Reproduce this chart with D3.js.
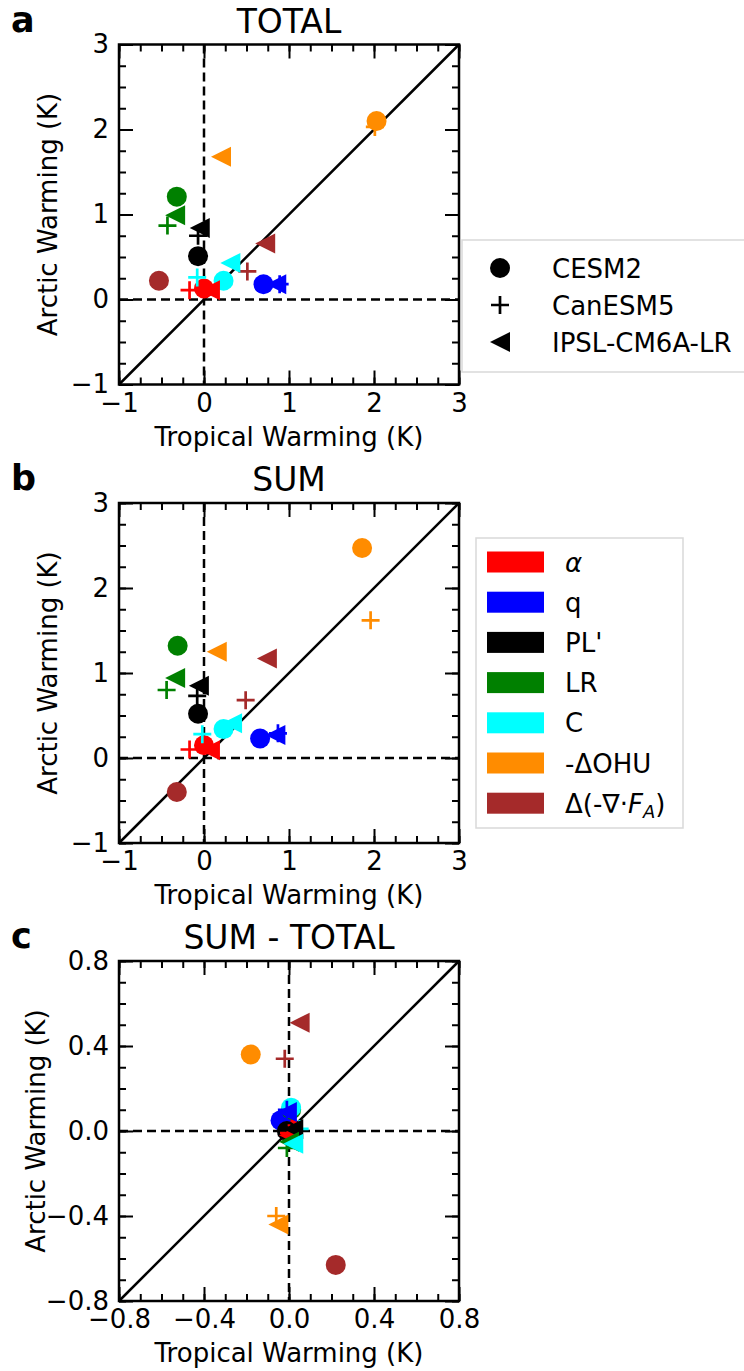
<!DOCTYPE html>
<html>
<head>
<meta charset="utf-8">
<title>Arctic vs tropical warming</title>
<style>
  body { margin: 0; background: #fff; }
  text { font-family: "DejaVu Sans", sans-serif; }
</style>
</head>
<body>
<script src="https://cdn.jsdelivr.net/npm/d3@7"></script>
<script>
// components, colours, models
var components = ["α", "q", "PL'", "LR", "C", "-ΔOHU", "Δ(-∇·F_A)"];
var colors = ["#ff0000", "#0000ff", "#000000", "#008000", "#00ffff", "#ff8c00", "#a52a2a"];
var models = ["CESM2", "CanESM5", "IPSL-CM6A-LR"];
var shapes = ["circle", "plus", "triangle"];

// panel a: TOTAL  (tropical x, arctic y) per model, in component order
var totalCESM2Trop = [0.00, 0.70, -0.07, -0.32, 0.23, 2.03, -0.53];
var totalCESM2Arct = [0.13, 0.18, 0.51, 1.21, 0.22, 2.10, 0.22];
var totalCanTrop   = [-0.17, 0.89, -0.07, -0.43, -0.08, 2.01, 0.51];
var totalCanArct   = [0.11, 0.18, 0.75, 0.87, 0.26, 2.03, 0.33];
var totalIPSLTrop  = [0.07, 0.85, -0.05, -0.34, 0.31, 0.20, 0.72];
var totalIPSLArct  = [0.11, 0.18, 0.84, 0.99, 0.43, 1.68, 0.66];

// panel b: SUM
var sumCESM2Trop = [0.00, 0.66, -0.07, -0.31, 0.23, 1.86, -0.32];
var sumCESM2Arct = [0.15, 0.23, 0.52, 1.32, 0.34, 2.47, -0.40];
var sumCanTrop   = [-0.17, 0.87, -0.08, -0.44, -0.02, 1.96, 0.49];
var sumCanArct   = [0.10, 0.29, 0.73, 0.80, 0.28, 1.62, 0.68];
var sumIPSLTrop  = [0.07, 0.84, -0.06, -0.34, 0.33, 0.15, 0.74];
var sumIPSLArct  = [0.09, 0.27, 0.85, 0.94, 0.41, 1.25, 1.17];

// panel c: SUM - TOTAL
var diffCESM2Trop = [0.00, -0.04, -0.01, 0.01, 0.01, -0.18, 0.22];
var diffCESM2Arct = [0.02, 0.05, 0.00, 0.10, 0.11, 0.36, -0.63];
var diffCanTrop   = [0.00, -0.01, -0.01, -0.01, 0.05, -0.06, -0.02];
var diffCanArct   = [-0.01, 0.10, -0.02, -0.08, 0.01, -0.40, 0.34];
var diffIPSLTrop  = [0.00, -0.01, 0.02, 0.00, 0.02, -0.05, 0.05];
var diffIPSLArct  = [-0.02, 0.09, 0.01, -0.05, -0.06, -0.44, 0.51];

// tick labels
var bigTicks = [-1, 0, 1, 2, 3];
var smallTicks = [-0.8, -0.4, 0.0, 0.4, 0.8];

var W = 744, H = 1371;
var svg = d3.select("body").append("svg")
    .attr("width", W)
    .attr("height", H);

var left = 119, size = 340;

function markerPath(shape) {
  if (shape == "triangle") return "M-10,0L10,-10L10,10Z";
  if (shape == "plus") return "M-9,0H9M0,-9V9";
  return d3.symbol(d3.symbolCircle, Math.PI * 100)();
}

function drawMarker(g, shape, color, x, y) {
  var p = g.append("path")
      .attr("d", markerPath(shape))
      .attr("transform", "translate(" + x + "," + y + ")");
  if (shape == "plus") p.attr("fill", "none").attr("stroke", color).attr("stroke-width", 2.7);
  else p.attr("fill", color);
}

function panel(cfg) {
  var top = cfg.top;
  var x = d3.scaleLinear().domain(cfg.domain).range([left, left + size]);
  var y = d3.scaleLinear().domain(cfg.domain).range([top + size, top]);
  var g = svg.append("g");

  // zero lines and 1:1 line
  g.append("line")
      .attr("x1", x(0)).attr("x2", x(0)).attr("y1", top).attr("y2", top + size)
      .attr("stroke", "#000").attr("stroke-width", 2.5).attr("stroke-dasharray", "9,5");
  g.append("line")
      .attr("x1", left).attr("x2", left + size).attr("y1", y(0)).attr("y2", y(0))
      .attr("stroke", "#000").attr("stroke-width", 2.5).attr("stroke-dasharray", "9,5");
  g.append("line")
      .attr("x1", x(cfg.domain[0])).attr("y1", y(cfg.domain[0]))
      .attr("x2", x(cfg.domain[1])).attr("y2", y(cfg.domain[1]))
      .attr("stroke", "#000").attr("stroke-width", 2.5);

  // points: model outer, component inner
  var marks = g.append("g");
  cfg.trop.forEach(function(tr, m) {
    tr.forEach(function(v, i) {
      drawMarker(marks, shapes[m], colors[i], x(v), y(cfg.arct[m][i]));
    });
  });

  // axes, ticks pointing inward
  var fmt = cfg.fmt;
  function ax(gen, scale, vals, len, lab, tr, pad) {
    var a = svg.append("g")
        .attr("transform", tr)
        .call(gen(scale).tickValues(vals).tickSize(-len).tickSizeOuter(0)
          .tickPadding(pad).tickFormat(lab ? fmt : ""));
    a.select(".domain").remove();
    a.selectAll(".tick line").attr("stroke-width", 2);
    a.selectAll("text").attr("font-size", 26).attr("font-family", "DejaVu Sans");
    return a;
  }
  ax(d3.axisBottom, x, cfg.major, 14, true, "translate(0," + (top + size) + ")", 9);
  ax(d3.axisBottom, x, cfg.minor, 7, false, "translate(0," + (top + size) + ")", 9);
  ax(d3.axisTop, x, cfg.major, 14, false, "translate(0," + top + ")", 9);
  ax(d3.axisTop, x, cfg.minor, 7, false, "translate(0," + top + ")", 9);
  ax(d3.axisLeft, y, cfg.major, 14, true, "translate(" + left + ",0)", 10);
  ax(d3.axisLeft, y, cfg.minor, 7, false, "translate(" + left + ",0)", 10);
  ax(d3.axisRight, y, cfg.major, 14, false, "translate(" + (left + size) + ",0)", 9);
  ax(d3.axisRight, y, cfg.minor, 7, false, "translate(" + (left + size) + ",0)", 9);

  svg.append("rect")
      .attr("x", left).attr("y", top).attr("width", size).attr("height", size)
      .attr("fill", "none").attr("stroke", "#000").attr("stroke-width", 2.5);

  svg.append("text")
      .attr("x", left + size / 2).attr("y", top + size + 61)
      .attr("text-anchor", "middle").attr("font-size", 26)
      .text("Tropical Warming (K)");
  svg.append("text")
      .attr("transform", "translate(" + cfg.ylabX + "," + (top + size / 2) + ") rotate(-90)")
      .attr("text-anchor", "middle").attr("font-size", 26)
      .text("Arctic Warming (K)");
  svg.append("text")
      .attr("x", left + size / 2).attr("y", top - 12)
      .attr("text-anchor", "middle").attr("font-size", 33)
      .text(cfg.title);
  svg.append("text")
      .attr("x", 11).attr("y", top - 13)
      .attr("font-size", 35).attr("font-weight", "bold")
      .text(cfg.letter);
}

panel({
  top: 44.5, letter: "a", title: "TOTAL", domain: [-1, 3], ylabX: 57,
  major: bigTicks, minor: d3.range(-1, 3.001, 0.25), fmt: d3.format("d"),
  trop: [totalCESM2Trop, totalCanTrop, totalIPSLTrop],
  arct: [totalCESM2Arct, totalCanArct, totalIPSLArct]
});
panel({
  top: 503, letter: "b", title: "SUM", domain: [-1, 3], ylabX: 57,
  major: bigTicks, minor: d3.range(-1, 3.001, 0.25), fmt: d3.format("d"),
  trop: [sumCESM2Trop, sumCanTrop, sumIPSLTrop],
  arct: [sumCESM2Arct, sumCanArct, sumIPSLArct]
});
panel({
  top: 961, letter: "c", title: "SUM - TOTAL", domain: [-0.8, 0.8], ylabX: 45,
  major: smallTicks, minor: d3.range(-8, 8.5, 1).map(function(d) { return d / 10; }), fmt: d3.format(".1f"),
  trop: [diffCESM2Trop, diffCanTrop, diffIPSLTrop],
  arct: [diffCESM2Arct, diffCanArct, diffIPSLArct]
});

// model legend (panel a)
var lg1 = svg.append("g");
lg1.append("rect")
    .attr("x", 462).attr("y", 240).attr("width", 300).attr("height", 132)
    .attr("fill", "#fff").attr("stroke", "#d9d9d9").attr("stroke-width", 1.5);
models.forEach(function(mname, m) {
  var yy = 268 + m * 37;
  drawMarker(lg1, shapes[m], "#000", 500, yy);
  lg1.append("text").attr("x", 552).attr("y", yy + 9.5).attr("font-size", 26).text(mname);
});

// component legend (panel b)
var lg2 = svg.append("g");
lg2.append("rect")
    .attr("x", 476).attr("y", 538).attr("width", 207).attr("height", 290)
    .attr("fill", "#fff").attr("stroke", "#d9d9d9").attr("stroke-width", 1.5);
components.forEach(function(c, i) {
  var yy = 562 + i * 40.2;
  lg2.append("rect").attr("x", 487).attr("y", yy - 10.5).attr("width", 57).attr("height", 21)
      .attr("fill", colors[i]);
  var t = lg2.append("text").attr("x", 565).attr("y", yy + 9.5).attr("font-size", 26);
  if (c == "α") {
    t.append("tspan").attr("font-style", "italic").text("α");
  } else if (c == "Δ(-∇·F_A)") {
    t.append("tspan").text("Δ(-∇·");
    t.append("tspan").attr("font-style", "italic").text("F");
    t.append("tspan").attr("font-style", "italic").attr("font-size", 18).attr("dy", 5).text("A");
    t.append("tspan").attr("dy", -5).text(")");
  } else {
    t.text(c);
  }
});
</script>
</body>
</html>
